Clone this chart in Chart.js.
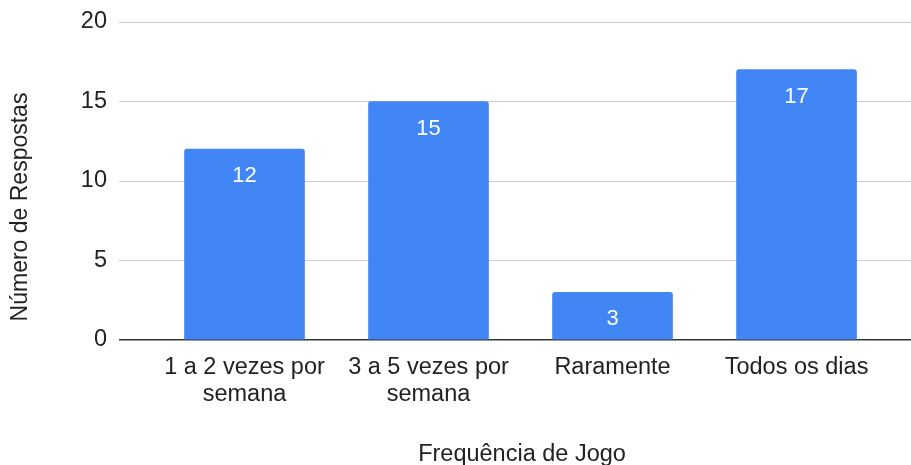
<!DOCTYPE html>
<html>
<head>
<meta charset="utf-8">
<script src="https://cdn.jsdelivr.net/npm/chart.js@4"></script>
<style>
  html, body { margin: 0; padding: 0; background: #fff; }
  #wrap { width: 911px; height: 465px; }
</style>
</head>
<body>
<div id="wrap"><canvas id="myChart" width="911" height="465"></canvas></div>
<script>
// dados do gráfico
var categories = [
    ['1 a 2 vezes por', 'semana'],
    ['3 a 5 vezes por', 'semana'],
    'Raramente',
    'Todos os dias'
];
var respostas = [12, 15, 3, 17];
var yTicks = [0, 5, 10, 15, 20];
var xTitle = 'Frequência de Jogo';
var yTitle = 'Número de Respostas';

var FONT = '"Liberation Sans", Arial, sans-serif';
var FSIZE = 23.5;

// rótulos brancos dentro das barras + títulos dos eixos
var barLabels = {
    id: 'barLabels',
    afterDatasetsDraw: function(chart) {
        var ctx = chart.ctx;
        var meta = chart.getDatasetMeta(0);
        ctx.save();
        ctx.fillStyle = '#ffffff';
        ctx.font = '22px ' + FONT;
        ctx.textAlign = 'center';
        ctx.textBaseline = 'middle';
        meta.data.forEach(function(bar, i) {
            ctx.fillText(String(respostas[i]), bar.x, bar.y + 27);
        });
        ctx.restore();
    },
    afterDraw: function(chart) {
        var ctx = chart.ctx;
        ctx.save();
        ctx.fillStyle = '#222';
        ctx.font = FSIZE + 'px ' + FONT;
        ctx.textAlign = 'center';
        ctx.textBaseline = 'middle';
        ctx.fillText(xTitle, 522, 455);
        ctx.translate(21, 207);
        ctx.rotate(-Math.PI / 2);
        ctx.font = '23px ' + FONT;
        ctx.fillText(yTitle, 0, 0);
        ctx.restore();
    }
};

var points = [];
for (var i = 0; i < respostas.length; i++) {
    points.push({ x: i, y: respostas[i] });
}

var ctx = document.getElementById('myChart').getContext('2d');
var chart = new Chart(ctx, {
    type: 'bar',
    data: {
        datasets: [{
            data: points,
            backgroundColor: '#4285f4',
            borderRadius: { topLeft: 3, topRight: 3 },
            borderSkipped: 'bottom',
            barThickness: 120
        }]
    },
    plugins: [barLabels],
    options: {
        responsive: false,
        animation: false,
        layout: { padding: { top: 22, right: 0, bottom: 0, left: 0 } },
        plugins: {
            legend: { display: false },
            tooltip: { enabled: false }
        },
        scales: {
            x: {
                type: 'linear',
                offset: false,
                min: -0.682,
                max: 3.622,
                afterBuildTicks: function(scale) {
                    scale.ticks = categories.map(function(c, i) { return { value: i }; });
                },
                afterFit: function(scale) {
                    scale.height = 125;
                    scale.paddingLeft = 0;
                    scale.paddingRight = 0;
                },
                grid: { display: false, drawTicks: false },
                border: { display: false },
                ticks: {
                    autoSkip: false,
                    maxRotation: 0,
                    padding: 14,
                    color: '#222',
                    font: { family: FONT, size: FSIZE, lineHeight: 1.16 },
                    callback: function(v) { return categories[v]; }
                },
                title: { display: false }
            },
            y: {
                min: 0,
                max: 20,
                afterBuildTicks: function(scale) {
                    scale.ticks = yTicks.map(function(v) { return { value: v }; });
                },
                afterFit: function(scale) {
                    scale.width = 119;
                    scale.paddingTop = 0;
                    scale.paddingBottom = 0;
                },
                grid: {
                    drawTicks: false,
                    color: function(c) { return c.tick && c.tick.value === 0 ? '#333' : '#cccccc'; },
                    lineWidth: function(c) { return c.tick && c.tick.value === 0 ? 1.5 : 1; }
                },
                border: { display: false },
                ticks: {
                    padding: 12,
                    color: '#222',
                    font: { family: FONT, size: FSIZE }
                },
                title: { display: false }
            }
        }
    }
});
</script>
</body>
</html>
